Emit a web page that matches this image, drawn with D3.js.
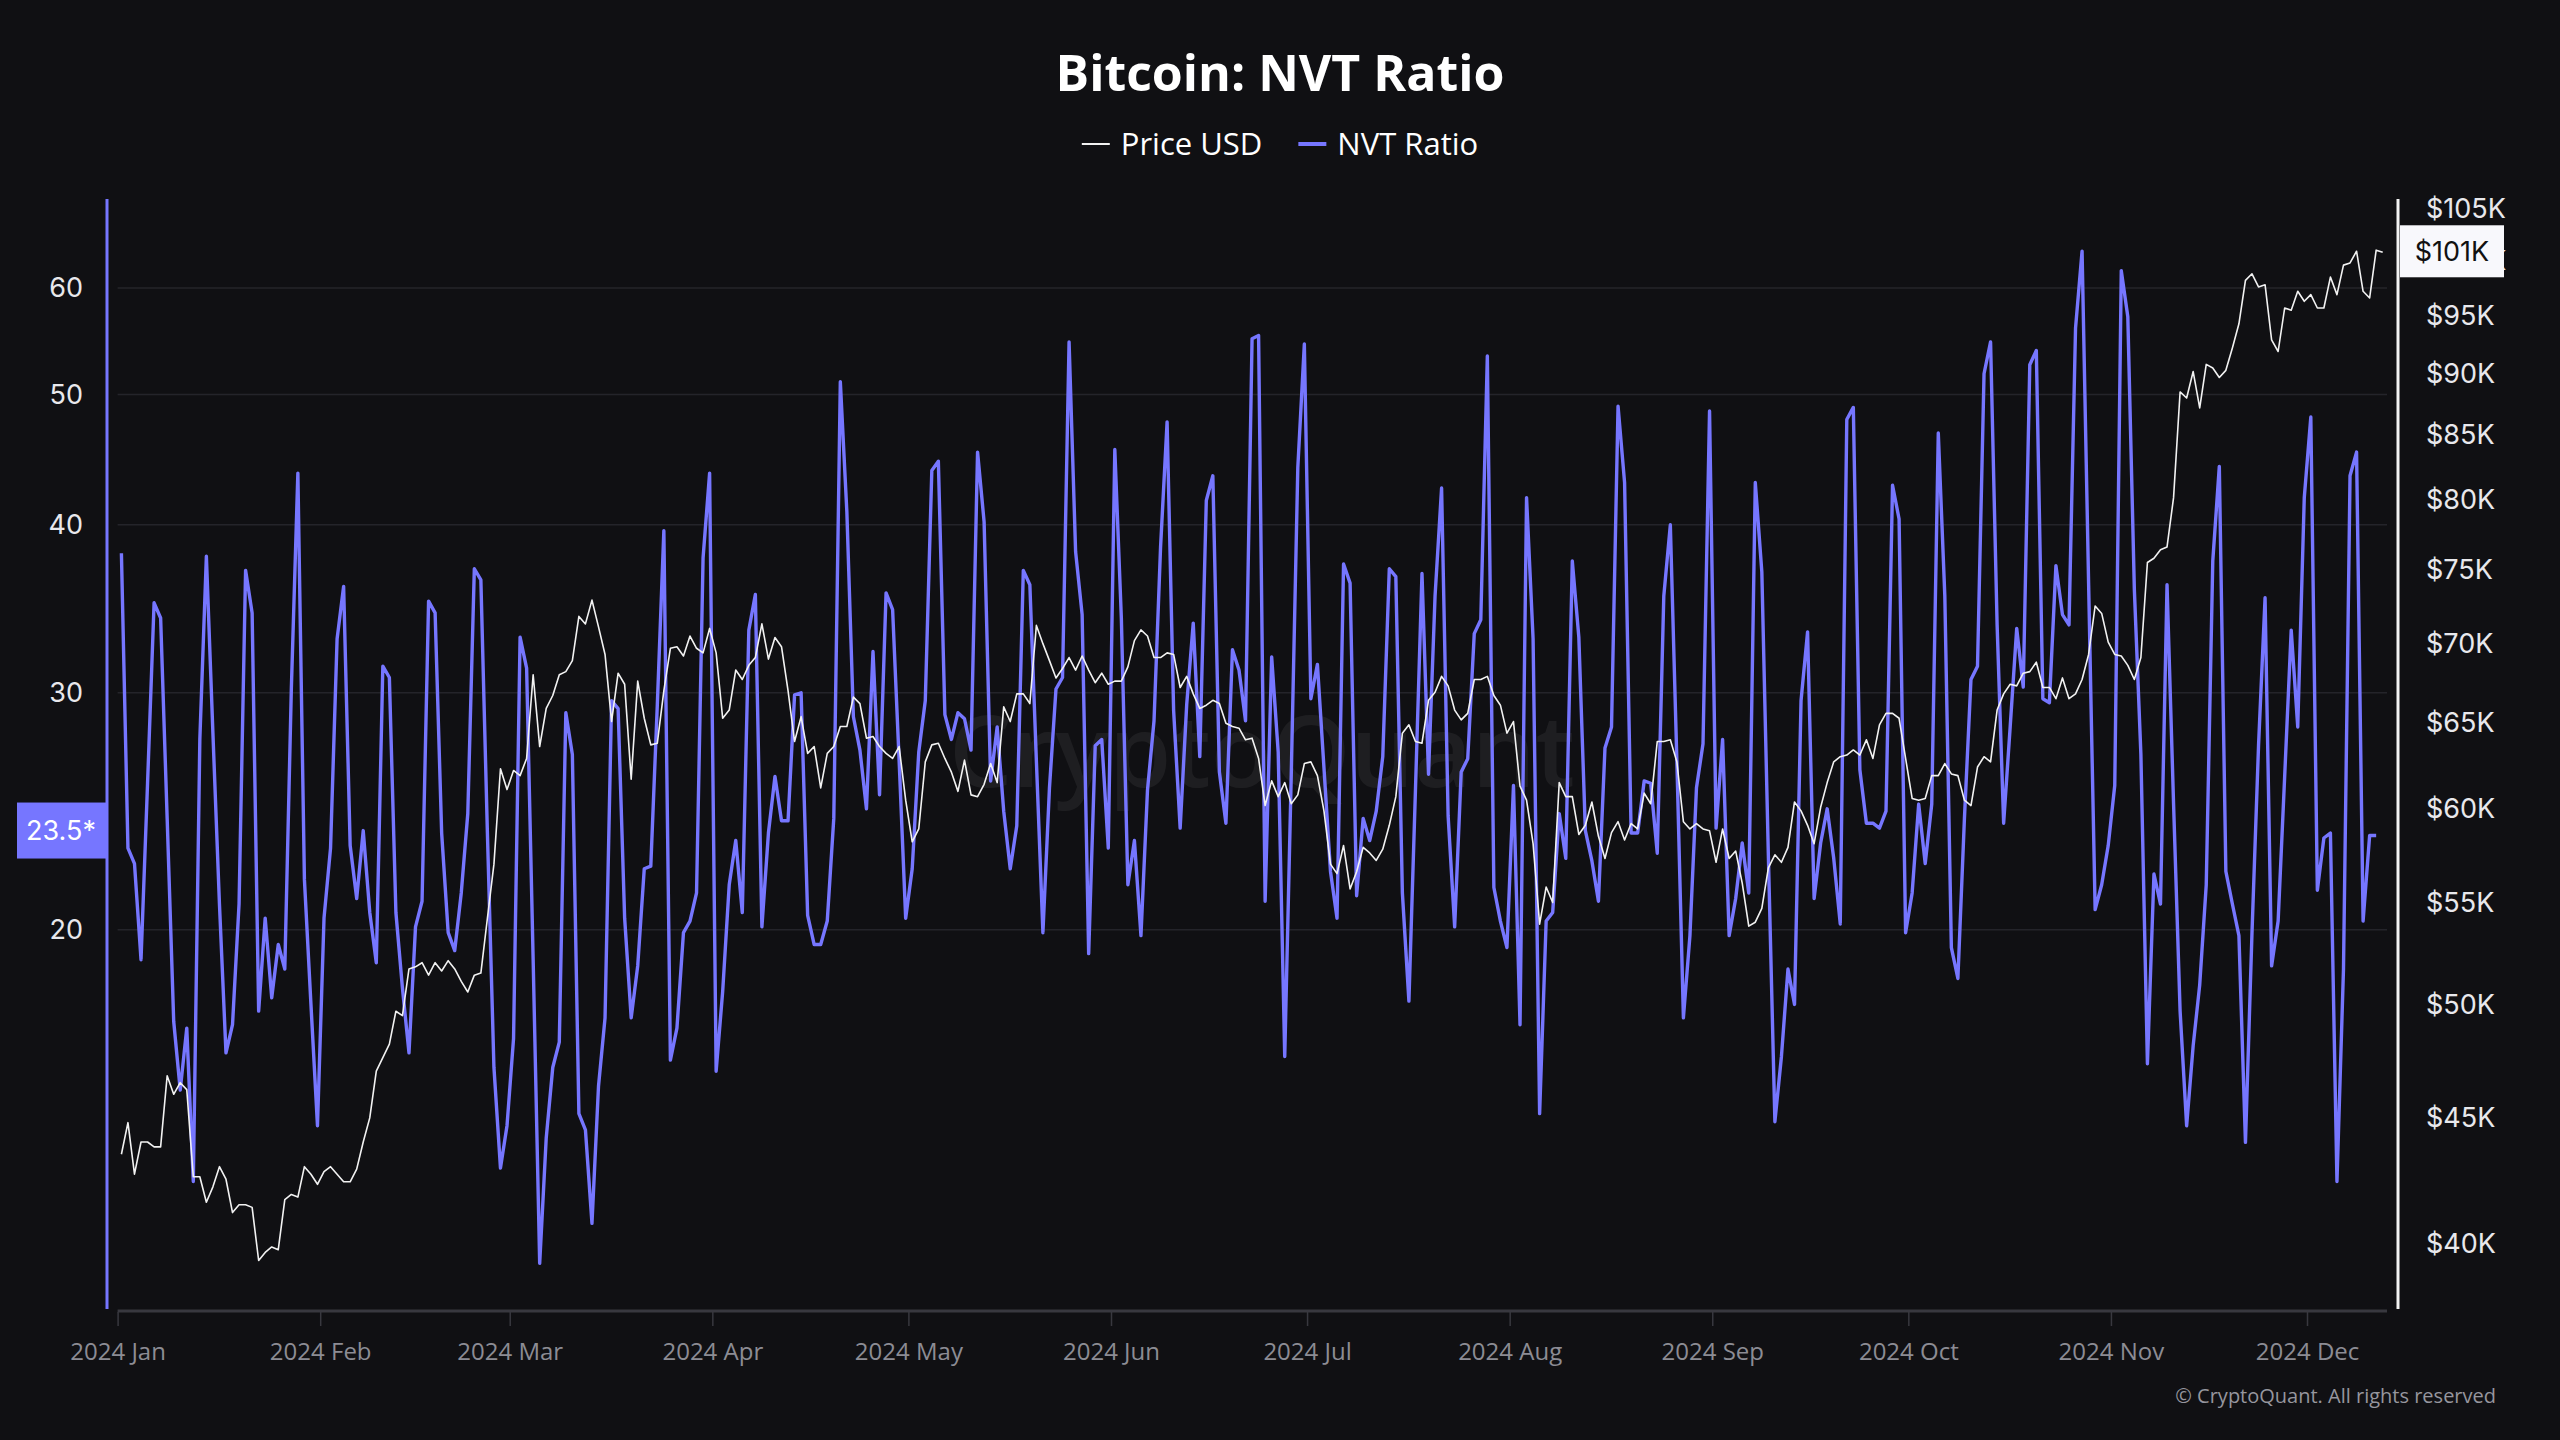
<!DOCTYPE html>
<html>
<head>
<meta charset="utf-8">
<title>Bitcoin: NVT Ratio</title>
<script src="https://cdn.jsdelivr.net/npm/d3@7"></script>
<style>
	html, body { margin: 0; padding: 0; background: #101013; }
	svg { display: block; }
</style>
</head>
<body>
<div id="chart"></div>
<script>
// Daily values, 2024-01-01 onwards
var startDate = Date.UTC(2024, 0, 1);

var nvtJan = [38.1, 23.0, 22.4, 19.0, 25.7, 35.0, 34.1, 24.2, 17.1, 15.2, 16.9, 13.0, 27.7, 37.9, 28.0, 20.9, 16.2, 17.0, 20.9, 37.0, 34.4, 17.4, 20.4, 17.8, 19.5, 18.7, 30.2, 43.7, 21.8, 17.6, 14.3];
var nvtFeb = [20.4, 23.0, 32.9, 36.0, 23.1, 21.1, 23.7, 20.6, 18.9, 31.4, 30.8, 20.6, 18.1, 16.2, 20.1, 21.0, 35.1, 34.4, 23.6, 19.9, 19.3, 21.3, 24.4, 37.1, 36.4, 23.6, 15.8, 13.3, 14.3];
var nvtMar = [16.6, 33.0, 31.3, 19.0, 11.3, 14.0, 15.8, 16.5, 29.0, 27.0, 14.6, 14.2, 12.1, 15.3, 17.2, 29.6, 29.2, 20.4, 17.2, 18.8, 22.2, 22.3, 29.4, 39.6, 16.0, 16.9, 19.9, 20.3, 21.3, 37.8, 43.7];
var nvtApr = [15.7, 18.0, 21.6, 23.3, 20.6, 33.4, 35.5, 20.1, 23.6, 26.0, 24.1, 24.1, 29.9, 30.0, 20.5, 19.5, 19.5, 20.3, 24.2, 51.1, 40.9, 28.8, 27.2, 24.6, 32.2, 25.2, 35.6, 34.6, 26.7, 20.4];
var nvtMay = [22.2, 27.1, 29.6, 43.9, 44.6, 28.9, 27.7, 29.0, 28.7, 27.2, 45.3, 40.2, 25.8, 28.3, 24.5, 22.2, 23.9, 37.0, 36.1, 26.7, 19.9, 25.5, 30.2, 30.8, 54.7, 38.2, 34.3, 19.2, 27.4, 27.7, 23.0];
var nvtJun = [45.5, 34.1, 21.6, 23.3, 19.8, 25.4, 28.6, 38.5, 47.7, 29.1, 23.8, 29.4, 33.8, 26.9, 41.7, 43.5, 26.2, 24.0, 32.3, 31.2, 28.6, 55.0, 55.3, 21.0, 31.9, 27.1, 16.1, 26.1, 44.1, 54.5];
var nvtJul = [29.7, 31.5, 26.4, 22.1, 20.4, 37.4, 36.2, 21.2, 24.2, 23.3, 24.5, 26.9, 37.1, 36.6, 21.3, 17.7, 25.4, 36.8, 26.1, 35.4, 42.6, 24.3, 20.1, 26.2, 26.8, 33.2, 34.0, 53.4, 21.5, 20.3, 19.4];
var nvtAug = [25.6, 17.0, 41.9, 32.9, 14.6, 20.3, 20.6, 24.4, 22.6, 37.6, 33.0, 23.7, 22.5, 21.0, 27.3, 28.3, 49.0, 43.0, 23.6, 23.6, 25.8, 25.7, 22.8, 35.4, 40.0, 26.7, 17.2, 19.8, 25.5, 27.5, 48.6];
var nvtSep = [23.8, 27.7, 19.8, 21.1, 23.2, 21.3, 43.0, 36.9, 22.7, 14.4, 16.1, 18.7, 17.6, 29.6, 33.3, 21.1, 23.2, 24.6, 22.6, 20.2, 47.9, 48.9, 26.3, 24.0, 24.0, 23.8, 24.5, 42.8, 40.4, 19.9];
var nvtOct = [21.3, 24.8, 22.4, 24.8, 46.8, 35.4, 19.4, 18.4, 24.2, 30.7, 31.4, 51.8, 54.7, 33.7, 24.0, 28.3, 33.5, 30.3, 52.6, 53.9, 29.7, 29.5, 37.3, 34.3, 33.7, 56.0, 63.9, 36.2, 20.7, 21.6, 23.1];
var nvtNov = [25.6, 61.8, 57.1, 35.8, 27.0, 15.9, 22.0, 20.9, 36.1, 24.8, 17.4, 14.3, 16.4, 18.2, 21.6, 37.6, 44.2, 22.1, 20.9, 19.8, 13.9, 19.9, 27.4, 35.3, 18.8, 20.3, 26.0, 33.4, 28.3, 41.9];
var nvtDec = [48.1, 21.4, 23.4, 23.6, 13.0, 18.7, 43.5, 45.3, 20.3, 23.5, 23.5];

// Price USD, in thousands
var priceJan = [43.5, 44.8, 42.7, 44.0, 44.0, 43.8, 43.8, 46.8, 46.0, 46.5, 46.2, 42.6, 42.6, 41.6, 42.2, 43.0, 42.5, 41.2, 41.5, 41.5, 41.4, 39.4, 39.7, 39.9, 39.8, 41.7, 41.9, 41.8, 43.0, 42.7, 42.3];
var priceFeb = [42.8, 43.0, 42.7, 42.4, 42.4, 42.9, 44.0, 45.0, 47.0, 47.6, 48.2, 49.7, 49.5, 51.7, 51.8, 52.0, 51.4, 52.0, 51.6, 52.1, 51.7, 51.1, 50.6, 51.4, 51.5, 54.2, 57.0, 62.3, 61.1];
var priceMar = [62.2, 61.9, 62.9, 68.0, 63.6, 65.9, 66.7, 68.0, 68.2, 68.9, 71.8, 71.3, 72.9, 71.1, 69.3, 65.1, 68.1, 67.4, 61.7, 67.6, 65.3, 63.7, 63.8, 67.0, 69.7, 69.8, 69.2, 70.5, 69.7, 69.4, 71.0];
var priceApr = [69.4, 65.3, 65.8, 68.3, 67.7, 68.6, 69.1, 71.3, 69.0, 70.4, 69.8, 67.0, 63.9, 65.4, 63.2, 63.6, 61.2, 63.2, 63.6, 64.8, 64.8, 66.6, 66.2, 64.1, 64.2, 63.6, 63.2, 62.9, 63.6, 60.5];
var priceMay = [58.2, 58.9, 62.7, 63.7, 63.8, 62.9, 62.1, 61.0, 62.8, 60.8, 60.7, 61.4, 62.6, 61.5, 66.0, 65.1, 66.8, 66.8, 66.2, 71.2, 70.0, 68.9, 67.8, 68.4, 69.1, 68.3, 69.2, 68.3, 67.5, 68.1, 67.4];
var priceJun = [67.6, 67.6, 68.5, 70.2, 70.9, 70.5, 69.1, 69.1, 69.4, 69.3, 67.2, 67.9, 66.8, 65.9, 66.1, 66.4, 66.2, 65.0, 64.8, 64.7, 64.0, 64.1, 62.9, 60.2, 61.6, 60.7, 61.5, 60.3, 60.8, 62.6];
var priceJul = [62.7, 61.9, 59.9, 57.0, 56.5, 58.0, 55.7, 56.6, 57.9, 57.6, 57.2, 57.8, 59.1, 60.7, 64.4, 64.9, 63.9, 63.8, 66.4, 66.9, 67.9, 67.3, 65.8, 65.2, 65.6, 67.7, 67.7, 67.9, 66.7, 66.1, 64.4];
var priceAug = [65.1, 61.3, 60.5, 58.1, 53.9, 55.8, 55.0, 61.5, 60.7, 60.7, 58.6, 59.1, 60.4, 58.5, 57.3, 58.7, 59.3, 58.3, 59.2, 58.9, 60.9, 60.3, 63.9, 63.9, 64.0, 62.7, 59.3, 58.9, 59.2, 58.9, 58.8];
var priceSep = [57.1, 58.9, 57.3, 57.7, 56.0, 53.8, 54.0, 54.7, 56.8, 57.5, 57.1, 57.9, 60.4, 59.9, 59.1, 58.1, 60.1, 61.5, 62.7, 63.0, 63.1, 63.4, 63.1, 64.0, 62.9, 64.9, 65.6, 65.6, 65.3, 62.9];
var priceOct = [60.6, 60.5, 60.6, 61.9, 61.9, 62.6, 62.0, 61.9, 60.5, 60.2, 62.4, 63.0, 62.7, 65.8, 66.8, 67.4, 67.3, 68.1, 68.2, 68.8, 67.2, 67.2, 66.5, 67.8, 66.5, 66.8, 67.7, 69.3, 72.5, 72.0, 70.1];
var priceNov = [69.3, 69.2, 68.6, 67.7, 69.1, 75.5, 75.8, 76.4, 76.6, 80.2, 88.5, 88.0, 90.2, 87.2, 90.8, 90.5, 89.7, 90.3, 92.2, 94.3, 98.2, 98.8, 97.6, 97.8, 92.9, 91.9, 95.7, 95.5, 97.2, 96.3];
var priceDec = [96.9, 95.7, 95.7, 98.5, 96.9, 99.6, 99.8, 100.9, 97.2, 96.6, 101.0, 100.8];

var nvtTicks = [20, 30, 40, 50, 60];
var priceTicks = [40, 45, 50, 55, 60, 65, 70, 75, 80, 85, 90, 95, 100, 105];
var monthTicks = ["2024-01-01", "2024-02-01", "2024-03-01", "2024-04-01", "2024-05-01", "2024-06-01",
	"2024-07-01", "2024-08-01", "2024-09-01", "2024-10-01", "2024-11-01", "2024-12-01"];

(function() {
	var width = 2560, height = 1440;
	var plot = {left: 117.6, right: 2387, top: 199, bottom: 1309};
	var nvtColor = "#7676ff";
	var priceColor = "#f2f2f2";

	function toSeries(months) {
		var values = [].concat.apply([], months);
		return values.map(function(v, i) {
			return {date: new Date(startDate + i * 864e5 + 14 * 36e5), value: v};
		});
	}

	var nvt = toSeries([nvtJan, nvtFeb, nvtMar, nvtApr, nvtMay, nvtJun, nvtJul, nvtAug, nvtSep, nvtOct, nvtNov, nvtDec]);
	var price = toSeries([priceJan, priceFeb, priceMar, priceApr, priceMay, priceJun, priceJul, priceAug, priceSep, priceOct, priceNov, priceDec]);
	var months = monthTicks.map(function(d) { return new Date(d + "T00:00:00Z"); });

	// Scales
	var x = d3.scaleUtc()
		.domain([months[0], months[months.length - 1]])
		.range([plot.left, 2307]);
	var yNvt = d3.scaleLog().domain([10.45, 69.86]).range([plot.bottom, plot.top]);
	var yPrice = d3.scaleLog().domain([37.66, 105.93]).range([plot.bottom, plot.top]);

	var svg = d3.select("#chart")
		.append("svg")
			.attr("width", width)
			.attr("height", height)
			.style("background", "#101013")
			.style("font-family", "'Open Sans', sans-serif");

	// Title
	svg.append("text")
		.attr("x", width / 2)
		.attr("y", 73)
		.attr("dy", "0.35em")
		.attr("text-anchor", "middle")
		.attr("fill", "#ffffff")
		.style("font-size", "50px")
		.style("font-weight", 700)
		.text("Bitcoin: NVT Ratio");

	// Legend
	var legendItems = [
		{label: "Price USD", color: priceColor, width: 2},
		{label: "NVT Ratio", color: nvtColor, width: 4}
	];
	var legend = svg.append("g");
	var lx = 0;
	legendItems.forEach(function(item, i) {
		var g = legend.append("g").attr("transform", "translate(" + lx + ",0)");
		g.append("line")
			.attr("x1", 0).attr("x2", 28)
			.attr("y1", 0).attr("y2", 0)
			.attr("stroke", item.color)
			.attr("stroke-width", item.width);
		var t = g.append("text")
			.attr("x", 39)
			.attr("dy", "0.35em")
			.attr("fill", "#ffffff")
			.style("font-size", "31px")
			.text(item.label);
		lx += 39 + t.node().getComputedTextLength() + 36;
	});
	legend.attr("transform", "translate(" + (width / 2 - (lx - 36) / 2) + ",144)");

	// Gridlines
	svg.append("g")
		.selectAll("line")
		.data(nvtTicks)
		.enter().append("line")
			.attr("x1", plot.left)
			.attr("x2", plot.right)
			.attr("y1", function(d) { return yNvt(d); })
			.attr("y2", function(d) { return yNvt(d); })
			.attr("stroke", "#24242a")
			.attr("stroke-width", 1.5);

	// Watermark
	svg.append("text")
		.attr("x", 1262)
		.attr("y", 752)
		.attr("dy", "0.35em")
		.attr("text-anchor", "middle")
		.attr("fill", "#ffffff")
		.attr("opacity", 0.06)
		.style("font-size", "100px")
		.style("font-weight", 600)
		.text("CryptoQuant");

	// Series
	svg.append("path")
		.datum(nvt)
		.attr("fill", "none")
		.attr("stroke", nvtColor)
		.attr("stroke-width", 3.4)
		.attr("stroke-linejoin", "round")
		.attr("d", d3.line()
			.x(function(d) { return x(d.date); })
			.y(function(d) { return yNvt(d.value); }));

	svg.append("path")
		.datum(price)
		.attr("fill", "none")
		.attr("stroke", priceColor)
		.attr("stroke-width", 1.6)
		.attr("stroke-linejoin", "round")
		.attr("d", d3.line()
			.x(function(d) { return x(d.date); })
			.y(function(d) { return yPrice(d.value); }));

	// Bottom axis
	svg.append("line")
		.attr("x1", plot.left).attr("x2", plot.right)
		.attr("y1", 1311).attr("y2", 1311)
		.attr("stroke", "#38383f")
		.attr("stroke-width", 3);

	var xAxis = svg.append("g")
		.attr("transform", "translate(0,1312)")
		.call(d3.axisBottom(x)
			.tickValues(months)
			.tickFormat(d3.utcFormat("%Y %b"))
			.tickSize(14)
			.tickPadding(17));
	xAxis.select(".domain").remove();
	xAxis.selectAll(".tick line").attr("stroke", "#38383f").attr("stroke-width", 1.5);
	xAxis.selectAll(".tick text")
		.attr("fill", "#8c8c94")
		.style("font-size", "24px")
		.style("font-family", "'Open Sans', sans-serif");

	// Left axis (NVT)
	svg.append("line")
		.attr("x1", 107).attr("x2", 107)
		.attr("y1", plot.top).attr("y2", plot.bottom)
		.attr("stroke", nvtColor)
		.attr("stroke-width", 3);

	var yAxisLeft = svg.append("g")
		.attr("transform", "translate(107,0)")
		.call(d3.axisLeft(yNvt)
			.tickValues(nvtTicks)
			.tickFormat(d3.format("d"))
			.tickSize(0)
			.tickPadding(24));
	yAxisLeft.select(".domain").remove();
	yAxisLeft.selectAll(".tick text")
		.attr("fill", "#e8e8ec")
		.style("font-size", "27px")
		.style("font-family", "Inter, sans-serif");

	// Right axis (price)
	svg.append("line")
		.attr("x1", 2398).attr("x2", 2398)
		.attr("y1", plot.top).attr("y2", plot.bottom)
		.attr("stroke", priceColor)
		.attr("stroke-width", 3);

	var yAxisRight = svg.append("g")
		.attr("transform", "translate(2398,0)")
		.call(d3.axisRight(yPrice)
			.tickValues(priceTicks)
			.tickFormat(function(d) { return "$" + d + "K"; })
			.tickSize(0)
			.tickPadding(28));
	yAxisRight.select(".domain").remove();
	yAxisRight.selectAll(".tick text")
		.attr("fill", "#e8e8ec")
		.style("font-size", "27px")
		.style("font-family", "Inter, sans-serif");

	// Last value badges
	var lastNvt = nvt[nvt.length - 1].value;
	var lastPrice = price[price.length - 1].value;

	var nvtBadge = svg.append("g")
		.attr("transform", "translate(0," + (yNvt(lastNvt) - 5) + ")");
	nvtBadge.append("rect")
		.attr("x", 17).attr("y", -28)
		.attr("width", 89).attr("height", 56)
		.attr("fill", nvtColor);
	nvtBadge.append("text")
		.attr("x", 61)
		.attr("dy", "0.35em")
		.attr("text-anchor", "middle")
		.attr("fill", "#ffffff")
		.style("font-size", "27px")
		.style("font-family", "Inter, sans-serif")
		.text(d3.format(".1f")(lastNvt) + "*");

	var priceBadge = svg.append("g")
		.attr("transform", "translate(0," + (yPrice(lastPrice) - 1) + ")");
	priceBadge.append("rect")
		.attr("x", 2400).attr("y", -26)
		.attr("width", 104).attr("height", 52)
		.attr("fill", "#f8f8fc");
	priceBadge.append("text")
		.attr("x", 2452)
		.attr("dy", "0.35em")
		.attr("text-anchor", "middle")
		.attr("fill", "#111111")
		.style("font-size", "27px")
		.style("font-family", "Inter, sans-serif")
		.text("$" + Math.round(lastPrice) + "K");

	// Footer
	svg.append("text")
		.attr("x", 2496)
		.attr("y", 1396)
		.attr("dy", "0.35em")
		.attr("text-anchor", "end")
		.attr("fill", "#96969e")
		.style("font-size", "20px")
		.text("\u00a9 CryptoQuant. All rights reserved");
})();
</script>
</body>
</html>
